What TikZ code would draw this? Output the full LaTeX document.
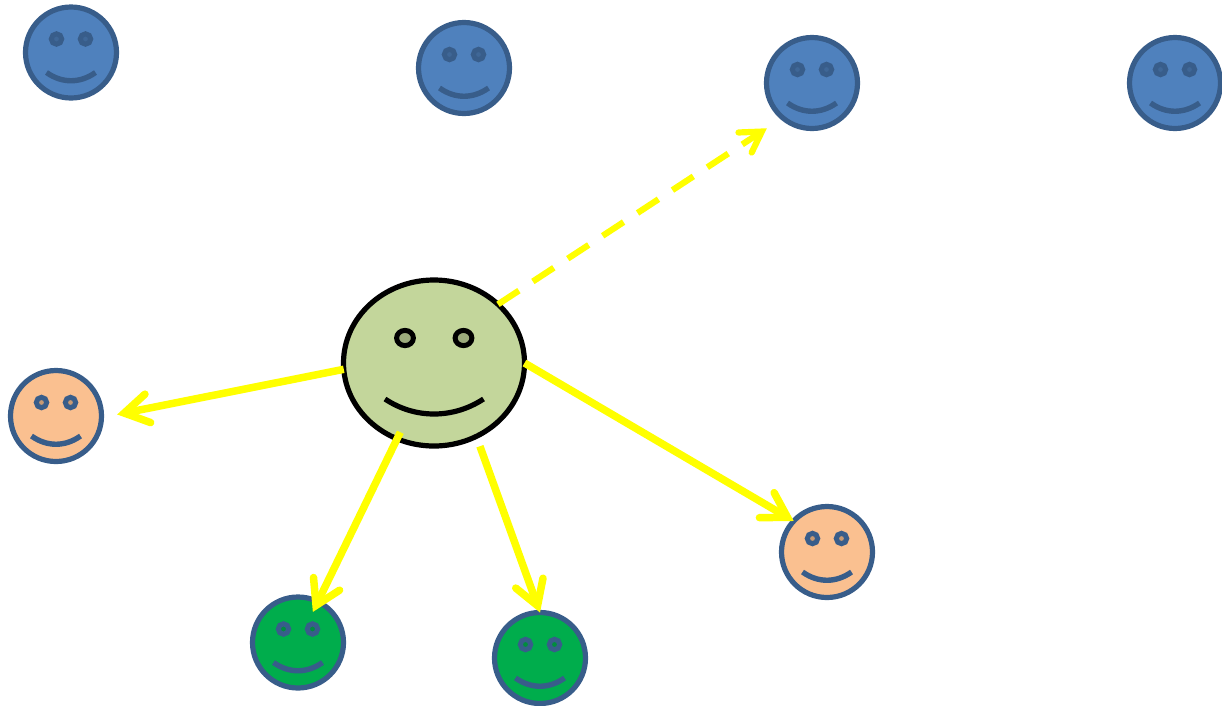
\documentclass[tikz,border=0pt]{standalone}
\usepackage{xcolor}
\usetikzlibrary{arrows.meta, shapes.geometric}

\definecolor{faceblue}{HTML}{4F81BD}
\definecolor{eyeblue}{HTML}{3F6797}
\definecolor{rimblue}{HTML}{385D8A}
\definecolor{faceorange}{HTML}{FAC090}
\definecolor{eyeorange}{HTML}{C89A73}
\definecolor{facegreen}{HTML}{00AD4C}
\definecolor{eyegreen}{HTML}{008D3D}
\definecolor{facebig}{HTML}{C3D69B}
\definecolor{eyebig}{HTML}{9CAB7C}
\definecolor{linkyellow}{HTML}{FFFF00}

\tikzset{
	face/.style={circle, draw=rimblue, line width=5.2pt, minimum size=91pt, inner sep=0pt, outer sep=0pt},
	bigface/.style={ellipse, draw=black, fill=facebig, line width=5.2pt, minimum width=181pt, minimum height=166pt, inner sep=0pt, outer sep=0pt},
	link/.style={linkyellow, line width=7.5pt, -{Straight Barb[length=24pt, width=29pt, line cap=round]}},
	linkdash/.style={linkyellow, line width=6.2pt, dash pattern=on 25pt off 16.7pt, -{Straight Barb[length=20pt, width=24pt, line cap=round]}}
}

% one small face: name, x, y, fill, eye fill
\newcommand{\smallface}[5]{
	\node [face, fill=#4] (#1) at (#2,#3) {};
	\draw [rimblue, line width=5pt, fill=#5] (#2-14.5,#3-13.5) circle (5.2);
	\draw [rimblue, line width=5pt, fill=#5] (#2+14.5,#3-13.5) circle (5.2);
	\draw [rimblue, line width=5.4pt] (#2-24.5,#3+20) .. controls (#2-9,#3+31) and (#2+9,#3+31) .. (#2+24.5,#3+20);
}

\begin{document}
\begin{tikzpicture}[x=1pt, y=-1pt]
	\useasboundingbox (0,0) rectangle (1222,705);

	\smallface{blueA}{71}{52.5}{faceblue}{eyeblue}
	\smallface{blueB}{464}{68}{faceblue}{eyeblue}
	\smallface{blueC}{812}{83}{faceblue}{eyeblue}
	\smallface{blueD}{1175}{83}{faceblue}{eyeblue}
	\smallface{orangeA}{56}{416}{faceorange}{eyeorange}
	\smallface{orangeB}{827}{552}{faceorange}{eyeorange}
	\smallface{greenA}{298}{642.5}{facegreen}{eyegreen}
	\smallface{greenB}{540}{658}{facegreen}{eyegreen}

	\node [bigface] (me) at (434,363) {};
	\draw [line width=5pt, fill=eyebig] (405,338) ellipse (8.4 and 7.6);
	\draw [line width=5pt, fill=eyebig] (463.5,338) ellipse (8.4 and 7.6);
	\draw [line width=5.2pt] (385,399) .. controls (415,419) and (453,419) .. (483.5,399);

	\draw [link, shorten >=16pt] (me.184) -- (orangeA.-2);
	\draw [link, shorten <=77pt, shorten >=34pt] (me.center) -- (greenA.center);
	\draw [link, shorten <=10.5pt] (me.-60.5) -- (greenB.north);
	\draw [link] (me.east) -- (orangeB.137);
	\draw [linkdash, shorten >=19pt] (me.north east) -- (blueC.230);
\end{tikzpicture}
\end{document}
